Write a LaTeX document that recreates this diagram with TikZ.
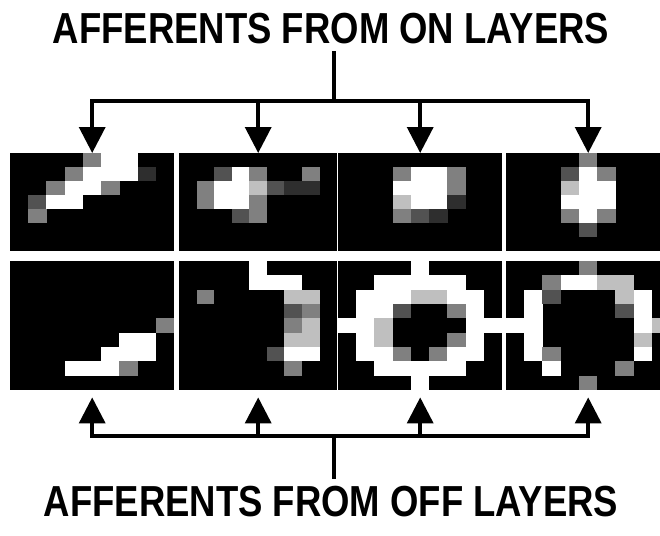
\documentclass[tikz,border=0pt]{standalone}
\usepackage{fontspec}
\setmainfont{Liberation Sans}
\usepackage{graphicx}
\usetikzlibrary{arrows.meta}
\newcommand{\tallcaps}[1]{\scalebox{1}[1.19]{#1}}
\tikzset{
	hi/.style={fill=white},
	lt/.style={fill=black!25},
	md/.style={fill=black!50},
	dk/.style={fill=black!68},
	vd/.style={fill=black!82},
	panel/.style={fill=black,anchor=north west,inner sep=0pt},
	title/.style={font=\bfseries\fontsize{36.5}{40}\selectfont,inner xsep=0pt,inner ysep=8pt},
	wire/.style={line width=3.5pt,line cap=rect},
	feed/.style={line width=3.5pt,-{Triangle[length=26pt,width=26pt]}}
}

\begin{document}
\begin{tikzpicture}[x=1pt,y=-1pt]
	\useasboundingbox (0,0) rectangle (660,535);
	\clip (0,0) rectangle (660,535);
	% titles
	\node[title,anchor=base] (on) at (331,44) {\tallcaps{AFFERENTS FROM ON LAYERS}};
	\node[title,anchor=base] (off) at (331,516) {\tallcaps{AFFERENTS FROM OFF LAYERS}};
	% panels, top row (ON) and bottom row (OFF)
	\node[panel,minimum width=164pt,minimum height=98pt] (on1) at (10,153) {};
	\node[panel,minimum width=158pt,minimum height=98pt] (on2) at (179,153) {};
	\node[panel,minimum width=164pt,minimum height=98pt] (on3) at (338,153) {};
	\node[panel,minimum width=164pt,minimum height=98pt] (on4) at (506,153) {};
	\node[panel,minimum width=164pt,minimum height=129pt] (off1) at (10,261) {};
	\node[panel,minimum width=158pt,minimum height=129pt] (off2) at (179,261) {};
	\node[panel,minimum width=164pt,minimum height=129pt] (off3) at (338,261) {};
	\node[panel,minimum width=164pt,minimum height=129pt] (off4) at (506,261) {};
	% cells
	\begin{scope}[shift={(on1.north west)},x=18.22pt,y=-14pt]
		\foreach \c/\r/\s in {4/0/md,5/0/hi,6/0/hi,3/1/md,4/1/hi,5/1/hi,6/1/hi,7/1/vd,
			2/2/md,3/2/hi,4/2/hi,5/2/md,1/3/dk,2/3/hi,3/3/hi,1/4/md}
			\fill[\s] (\c,\r) rectangle ++(1.01,1.01);
	\end{scope}
	\begin{scope}[shift={(on2.north west)},x=17.56pt,y=-14pt]
		\foreach \c/\r/\s in {2/1/dk,3/1/hi,4/1/md,7/1/md,1/2/md,2/2/hi,3/2/hi,4/2/lt,5/2/dk,6/2/vd,7/2/vd,
			1/3/md,2/3/hi,3/3/hi,4/3/md,3/4/dk,4/4/md}
			\fill[\s] (\c,\r) rectangle ++(1.01,1.01);
	\end{scope}
	\begin{scope}[shift={(on3.north west)},x=18.22pt,y=-14pt]
		\foreach \c/\r/\s in {3/1/md,4/1/hi,5/1/hi,6/1/md,3/2/hi,4/2/hi,5/2/hi,6/2/md,
			3/3/lt,4/3/hi,5/3/hi,6/3/vd,3/4/md,4/4/dk,5/4/vd}
			\fill[\s] (\c,\r) rectangle ++(1.01,1.01);
	\end{scope}
	\begin{scope}[shift={(on4.north west)},x=18.22pt,y=-14pt]
		\foreach \c/\r/\s in {4/0/md,3/1/dk,4/1/hi,5/1/md,3/2/lt,4/2/hi,5/2/hi,3/3/hi,4/3/hi,5/3/hi,
			3/4/md,4/4/hi,5/4/md,4/5/dk}
			\fill[\s] (\c,\r) rectangle ++(1.01,1.01);
	\end{scope}
	\begin{scope}[shift={(off1.north west)},x=18.22pt,y=-14.33pt]
		\foreach \c/\r/\s in {8/4/md,6/5/hi,7/5/hi,5/6/hi,6/6/hi,7/6/hi,3/7/hi,4/7/hi,5/7/hi,6/7/md}
			\fill[\s] (\c,\r) rectangle ++(1.01,1.01);
	\end{scope}
	\begin{scope}[shift={(off2.north west)},x=17.56pt,y=-14.33pt]
		\foreach \c/\r/\s in {4/0/hi,4/1/hi,5/1/hi,6/1/hi,1/2/md,6/2/lt,7/2/lt,6/3/dk,7/3/md,
			6/4/md,7/4/lt,6/5/lt,7/5/lt,5/6/dk,6/6/hi,7/6/hi,6/7/md}
			\fill[\s] (\c,\r) rectangle ++(1.01,1.01);
	\end{scope}
	\begin{scope}[shift={(off3.north west)},x=18.22pt,y=-14.33pt]
		\foreach \c/\r/\s in {4/0/hi,2/1/hi,3/1/hi,4/1/hi,5/1/hi,6/1/hi,
			1/2/hi,2/2/hi,3/2/hi,4/2/lt,5/2/lt,6/2/hi,7/2/hi,
			1/3/hi,2/3/hi,3/3/dk,6/3/md,7/3/hi,
			0/4/hi,1/4/hi,2/4/lt,7/4/hi,8/4/hi,
			1/5/hi,2/5/lt,6/5/md,7/5/hi,
			1/6/hi,2/6/hi,3/6/md,5/6/md,6/6/hi,7/6/hi,
			2/7/hi,3/7/hi,4/7/hi,5/7/hi,6/7/hi,4/8/hi}
			\fill[\s] (\c,\r) rectangle ++(1.01,1.01);
	\end{scope}
	\begin{scope}[shift={(off4.north west)},x=18.22pt,y=-14.33pt]
		\foreach \c/\r/\s in {4/0/md,2/1/md,3/1/hi,4/1/hi,5/1/lt,6/1/lt,
			1/2/hi,2/2/dk,6/2/lt,7/2/hi,1/3/hi,6/3/dk,7/3/hi,
			0/4/hi,1/4/hi,7/4/hi,8/4/lt,1/5/hi,7/5/lt,
			1/6/hi,2/6/md,7/6/hi,2/7/hi,6/7/md,4/8/md}
			\fill[\s] (\c,\r) rectangle ++(1.01,1.01);
	\end{scope}
	% connectors
	\coordinate (onbar) at (334,101);
	\coordinate (offbar) at (334,436);
	\draw[wire] (on.south -| onbar) -- (onbar);
	\draw[wire] (on1.north |- onbar) -- (on4.north |- onbar);
	\foreach \p in {on1,on2,on3,on4}
		\draw[feed] (\p.north |- onbar) -- (\p.north);
	\draw[wire] (offbar) -- (off.north -| offbar);
	\draw[wire] (off1.south |- offbar) -- (off4.south |- offbar);
	\foreach \p in {off1,off2,off3,off4}
		\draw[feed,shorten >=7pt] (\p.south |- offbar) -- (\p.south);
\end{tikzpicture}
\end{document}
